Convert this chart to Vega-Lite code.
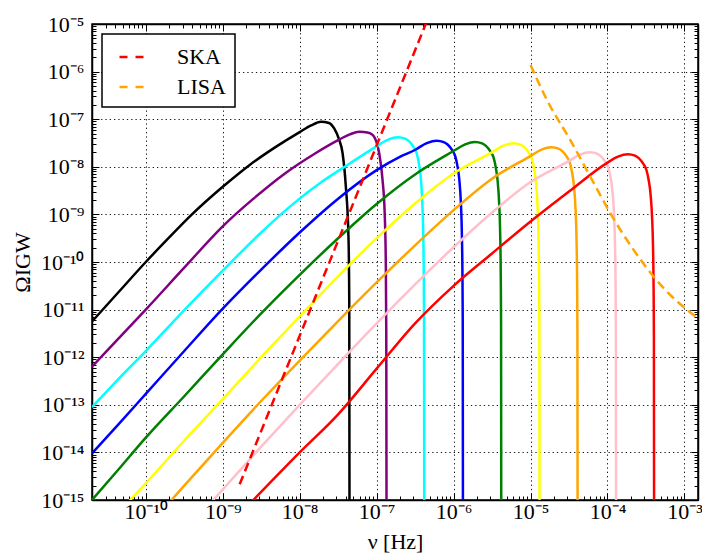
{
  "$schema": "https://vega.github.io/schema/vega-lite/v6.json",
  "width": 606,
  "height": 476,
  "autosize": {"type": "none"},
  "padding": {"left": 92, "top": 24, "right": 4, "bottom": 54},
  "config": {
    "view": {"stroke": "black", "strokeWidth": 1.5},
    "font": "Liberation Serif",
    "legend": {"strokeWidth": 1.5},
    "axis": {
      "labelFont": "Liberation Serif",
      "labelFontSize": 22,
      "labelColor": "black",
      "titleFont": "Liberation Serif",
      "titleFontSize": 22,
      "titleFontWeight": "normal",
      "titleColor": "black",
      "domainColor": "black",
      "domainWidth": 1.5,
      "tickColor": "black",
      "tickWidth": 1,
      "labelFlush": false,
      "labelOverlap": false
    }
  },
  "datasets": {
    "curves": [
      {"curve": "black", "nu": 2.0e-11, "omega": 5.62e-12},
      {"curve": "black", "nu": 4.47e-11, "omega": 2.37e-11},
      {"curve": "black", "nu": 1.0e-10, "omega": 1.0e-10},
      {"curve": "black", "nu": 2.0e-10, "omega": 3.24e-10},
      {"curve": "black", "nu": 3.98e-10, "omega": 1.0e-9},
      {"curve": "black", "nu": 1.0e-9, "omega": 3.80e-9},
      {"curve": "black", "nu": 2.24e-9, "omega": 1.096e-8},
      {"curve": "black", "nu": 5.01e-9, "omega": 2.69e-8},
      {"curve": "black", "nu": 1.0e-8, "omega": 5.37e-8},
      {"curve": "black", "nu": 1.41e-8, "omega": 7.41e-8},
      {"curve": "black", "nu": 1.888e-8, "omega": 8.87e-8},
      {"curve": "black", "nu": 2.40e-8, "omega": 8.32e-8},
      {"curve": "black", "nu": 2.82e-8, "omega": 6.31e-8},
      {"curve": "black", "nu": 3.24e-8, "omega": 3.80e-8},
      {"curve": "black", "nu": 3.606e-8, "omega": 1.95e-8},
      {"curve": "black", "nu": 3.98e-8, "omega": 3.80e-9},
      {"curve": "black", "nu": 4.305e-8, "omega": 3.39e-10},
      {"curve": "black", "nu": 4.406e-8, "omega": 1.58e-11},
      {"curve": "black", "nu": 4.446e-8, "omega": 1e-16},

      {"curve": "purple", "nu": 2.0e-11, "omega": 6.31e-13},
      {"curve": "purple", "nu": 4.47e-11, "omega": 2.51e-12},
      {"curve": "purple", "nu": 1.0e-10, "omega": 1.0e-11},
      {"curve": "purple", "nu": 3.16e-10, "omega": 7.59e-11},
      {"curve": "purple", "nu": 1.0e-9, "omega": 5.62e-10},
      {"curve": "purple", "nu": 2.51e-9, "omega": 2.14e-9},
      {"curve": "purple", "nu": 6.31e-9, "omega": 7.08e-9},
      {"curve": "purple", "nu": 1.585e-8, "omega": 1.905e-8},
      {"curve": "purple", "nu": 3.16e-8, "omega": 3.63e-8},
      {"curve": "purple", "nu": 4.47e-8, "omega": 4.79e-8},
      {"curve": "purple", "nu": 5.94e-8, "omega": 5.47e-8},
      {"curve": "purple", "nu": 7.59e-8, "omega": 5.25e-8},
      {"curve": "purple", "nu": 8.85e-8, "omega": 4.68e-8},
      {"curve": "purple", "nu": 1.012e-7, "omega": 3.02e-8},
      {"curve": "purple", "nu": 1.081e-7, "omega": 1.905e-8},
      {"curve": "purple", "nu": 1.194e-7, "omega": 5.25e-9},
      {"curve": "purple", "nu": 1.274e-7, "omega": 1.0e-9},
      {"curve": "purple", "nu": 1.315e-7, "omega": 1.0e-10},
      {"curve": "purple", "nu": 1.334e-7, "omega": 3.16e-12},
      {"curve": "purple", "nu": 1.346e-7, "omega": 1e-16},

      {"curve": "cyan", "nu": 2.0e-11, "omega": 8.91e-14},
      {"curve": "cyan", "nu": 4.47e-11, "omega": 3.55e-13},
      {"curve": "cyan", "nu": 1.0e-10, "omega": 1.349e-12},
      {"curve": "cyan", "nu": 3.16e-10, "omega": 9.77e-12},
      {"curve": "cyan", "nu": 1.0e-9, "omega": 6.61e-11},
      {"curve": "cyan", "nu": 3.16e-9, "omega": 4.17e-10},
      {"curve": "cyan", "nu": 7.94e-9, "omega": 1.585e-9},
      {"curve": "cyan", "nu": 2.0e-8, "omega": 5.01e-9},
      {"curve": "cyan", "nu": 4.47e-8, "omega": 1.175e-8},
      {"curve": "cyan", "nu": 9.98e-8, "omega": 2.69e-8},
      {"curve": "cyan", "nu": 1.409e-7, "omega": 3.72e-8},
      {"curve": "cyan", "nu": 1.901e-7, "omega": 4.17e-8},
      {"curve": "cyan", "nu": 2.339e-7, "omega": 3.89e-8},
      {"curve": "cyan", "nu": 2.624e-7, "omega": 3.47e-8},
      {"curve": "cyan", "nu": 3.013e-7, "omega": 2.63e-8},
      {"curve": "cyan", "nu": 3.304e-7, "omega": 1.95e-8},
      {"curve": "cyan", "nu": 3.540e-7, "omega": 1.175e-8},
      {"curve": "cyan", "nu": 3.707e-7, "omega": 6.92e-9},
      {"curve": "cyan", "nu": 3.917e-7, "omega": 1.86e-9},
      {"curve": "cyan", "nu": 4.018e-7, "omega": 5.25e-10},
      {"curve": "cyan", "nu": 4.093e-7, "omega": 6.61e-11},
      {"curve": "cyan", "nu": 4.130e-7, "omega": 6.61e-12},
      {"curve": "cyan", "nu": 4.159e-7, "omega": 1e-16},

      {"curve": "blue", "nu": 2.0e-11, "omega": 9.55e-15},
      {"curve": "blue", "nu": 4.47e-11, "omega": 3.98e-14},
      {"curve": "blue", "nu": 1.0e-10, "omega": 1.698e-13},
      {"curve": "blue", "nu": 3.16e-10, "omega": 1.349e-12},
      {"curve": "blue", "nu": 1.0e-9, "omega": 1.047e-11},
      {"curve": "blue", "nu": 3.16e-9, "omega": 6.92e-11},
      {"curve": "blue", "nu": 1.0e-8, "omega": 4.17e-10},
      {"curve": "blue", "nu": 3.16e-8, "omega": 2.14e-9},
      {"curve": "blue", "nu": 1.0e-7, "omega": 8.51e-9},
      {"curve": "blue", "nu": 2.0e-7, "omega": 1.622e-8},
      {"curve": "blue", "nu": 3.177e-7, "omega": 2.28e-8},
      {"curve": "blue", "nu": 4.487e-7, "omega": 3.148e-8},
      {"curve": "blue", "nu": 6.053e-7, "omega": 3.532e-8},
      {"curve": "blue", "nu": 7.447e-7, "omega": 3.296e-8},
      {"curve": "blue", "nu": 8.356e-7, "omega": 2.938e-8},
      {"curve": "blue", "nu": 9.594e-7, "omega": 2.228e-8},
      {"curve": "blue", "nu": 1.052e-6, "omega": 1.652e-8},
      {"curve": "blue", "nu": 1.127e-6, "omega": 9.95e-9},
      {"curve": "blue", "nu": 1.180e-6, "omega": 5.86e-9},
      {"curve": "blue", "nu": 1.247e-6, "omega": 1.578e-9},
      {"curve": "blue", "nu": 1.279e-6, "omega": 4.45e-10},
      {"curve": "blue", "nu": 1.303e-6, "omega": 5.60e-11},
      {"curve": "blue", "nu": 1.315e-6, "omega": 5.60e-12},
      {"curve": "blue", "nu": 1.324e-6, "omega": 1e-16},

      {"curve": "green", "nu": 2.0e-11, "omega": 1.0e-15},
      {"curve": "green", "nu": 4.47e-11, "omega": 4.47e-15},
      {"curve": "green", "nu": 1.0e-10, "omega": 2.04e-14},
      {"curve": "green", "nu": 3.16e-10, "omega": 1.514e-13},
      {"curve": "green", "nu": 1.0e-9, "omega": 1.148e-12},
      {"curve": "green", "nu": 3.16e-9, "omega": 8.32e-12},
      {"curve": "green", "nu": 1.0e-8, "omega": 5.37e-11},
      {"curve": "green", "nu": 3.16e-8, "omega": 3.16e-10},
      {"curve": "green", "nu": 1.0e-7, "omega": 1.66e-9},
      {"curve": "green", "nu": 3.16e-7, "omega": 6.92e-9},
      {"curve": "green", "nu": 1.0e-6, "omega": 2.143e-8},
      {"curve": "green", "nu": 1.413e-6, "omega": 2.958e-8},
      {"curve": "green", "nu": 1.905e-6, "omega": 3.319e-8},
      {"curve": "green", "nu": 2.344e-6, "omega": 3.097e-8},
      {"curve": "green", "nu": 2.630e-6, "omega": 2.761e-8},
      {"curve": "green", "nu": 3.020e-6, "omega": 2.094e-8},
      {"curve": "green", "nu": 3.311e-6, "omega": 1.552e-8},
      {"curve": "green", "nu": 3.548e-6, "omega": 9.35e-9},
      {"curve": "green", "nu": 3.715e-6, "omega": 5.51e-9},
      {"curve": "green", "nu": 3.926e-6, "omega": 1.483e-9},
      {"curve": "green", "nu": 4.027e-6, "omega": 4.18e-10},
      {"curve": "green", "nu": 4.102e-6, "omega": 5.26e-11},
      {"curve": "green", "nu": 4.140e-6, "omega": 5.26e-12},
      {"curve": "green", "nu": 4.169e-6, "omega": 1e-16},

      {"curve": "yellow", "nu": 5.50e-11, "omega": 7.94e-16},
      {"curve": "yellow", "nu": 1.0e-10, "omega": 2.24e-15},
      {"curve": "yellow", "nu": 3.16e-10, "omega": 1.778e-14},
      {"curve": "yellow", "nu": 1.0e-9, "omega": 1.318e-13},
      {"curve": "yellow", "nu": 3.16e-9, "omega": 1.0e-12},
      {"curve": "yellow", "nu": 1.0e-8, "omega": 7.24e-12},
      {"curve": "yellow", "nu": 3.16e-8, "omega": 5.01e-11},
      {"curve": "yellow", "nu": 1.0e-7, "omega": 3.16e-10},
      {"curve": "yellow", "nu": 3.16e-7, "omega": 1.698e-9},
      {"curve": "yellow", "nu": 1.0e-6, "omega": 7.24e-9},
      {"curve": "yellow", "nu": 3.148e-6, "omega": 2.014e-8},
      {"curve": "yellow", "nu": 4.446e-6, "omega": 2.780e-8},
      {"curve": "yellow", "nu": 5.998e-6, "omega": 3.119e-8},
      {"curve": "yellow", "nu": 7.379e-6, "omega": 2.911e-8},
      {"curve": "yellow", "nu": 8.279e-6, "omega": 2.594e-8},
      {"curve": "yellow", "nu": 9.506e-6, "omega": 1.968e-8},
      {"curve": "yellow", "nu": 1.042e-5, "omega": 1.459e-8},
      {"curve": "yellow", "nu": 1.117e-5, "omega": 8.79e-9},
      {"curve": "yellow", "nu": 1.169e-5, "omega": 5.18e-9},
      {"curve": "yellow", "nu": 1.236e-5, "omega": 1.393e-9},
      {"curve": "yellow", "nu": 1.268e-5, "omega": 3.93e-10},
      {"curve": "yellow", "nu": 1.291e-5, "omega": 4.94e-11},
      {"curve": "yellow", "nu": 1.303e-5, "omega": 4.94e-12},
      {"curve": "yellow", "nu": 1.312e-5, "omega": 1e-16},

      {"curve": "orange", "nu": 1.905e-10, "omega": 7.94e-16},
      {"curve": "orange", "nu": 3.16e-10, "omega": 2.0e-15},
      {"curve": "orange", "nu": 1.0e-9, "omega": 1.585e-14},
      {"curve": "orange", "nu": 3.16e-9, "omega": 1.202e-13},
      {"curve": "orange", "nu": 1.0e-8, "omega": 8.51e-13},
      {"curve": "orange", "nu": 3.16e-8, "omega": 5.75e-12},
      {"curve": "orange", "nu": 1.0e-7, "omega": 3.72e-11},
      {"curve": "orange", "nu": 3.16e-7, "omega": 2.24e-10},
      {"curve": "orange", "nu": 1.0e-6, "omega": 1.23e-9},
      {"curve": "orange", "nu": 3.16e-6, "omega": 5.62e-9},
      {"curve": "orange", "nu": 9.82e-6, "omega": 1.660e-8},
      {"curve": "orange", "nu": 1.387e-5, "omega": 2.291e-8},
      {"curve": "orange", "nu": 1.871e-5, "omega": 2.570e-8},
      {"curve": "orange", "nu": 2.301e-5, "omega": 2.399e-8},
      {"curve": "orange", "nu": 2.582e-5, "omega": 2.138e-8},
      {"curve": "orange", "nu": 2.965e-5, "omega": 1.622e-8},
      {"curve": "orange", "nu": 3.251e-5, "omega": 1.202e-8},
      {"curve": "orange", "nu": 3.483e-5, "omega": 7.24e-9},
      {"curve": "orange", "nu": 3.648e-5, "omega": 4.27e-9},
      {"curve": "orange", "nu": 3.855e-5, "omega": 1.148e-9},
      {"curve": "orange", "nu": 3.954e-5, "omega": 3.24e-10},
      {"curve": "orange", "nu": 4.027e-5, "omega": 4.07e-11},
      {"curve": "orange", "nu": 4.064e-5, "omega": 4.07e-12},
      {"curve": "orange", "nu": 4.093e-5, "omega": 1e-16},

      {"curve": "pink", "nu": 6.61e-10, "omega": 7.94e-16},
      {"curve": "pink", "nu": 1.0e-9, "omega": 1.66e-15},
      {"curve": "pink", "nu": 3.16e-9, "omega": 1.318e-14},
      {"curve": "pink", "nu": 1.0e-8, "omega": 1.0e-13},
      {"curve": "pink", "nu": 3.16e-8, "omega": 7.24e-13},
      {"curve": "pink", "nu": 1.0e-7, "omega": 5.13e-12},
      {"curve": "pink", "nu": 3.16e-7, "omega": 3.39e-11},
      {"curve": "pink", "nu": 1.0e-6, "omega": 2.04e-10},
      {"curve": "pink", "nu": 3.16e-6, "omega": 1.096e-9},
      {"curve": "pink", "nu": 1.0e-5, "omega": 4.79e-9},
      {"curve": "pink", "nu": 3.105e-5, "omega": 1.303e-8},
      {"curve": "pink", "nu": 4.385e-5, "omega": 1.799e-8},
      {"curve": "pink", "nu": 5.916e-5, "omega": 2.018e-8},
      {"curve": "pink", "nu": 7.278e-5, "omega": 1.884e-8},
      {"curve": "pink", "nu": 8.166e-5, "omega": 1.679e-8},
      {"curve": "pink", "nu": 9.376e-5, "omega": 1.274e-8},
      {"curve": "pink", "nu": 1.028e-4, "omega": 9.44e-9},
      {"curve": "pink", "nu": 1.102e-4, "omega": 5.69e-9},
      {"curve": "pink", "nu": 1.153e-4, "omega": 3.35e-9},
      {"curve": "pink", "nu": 1.219e-4, "omega": 9.02e-10},
      {"curve": "pink", "nu": 1.250e-4, "omega": 2.54e-10},
      {"curve": "pink", "nu": 1.274e-4, "omega": 3.20e-11},
      {"curve": "pink", "nu": 1.285e-4, "omega": 3.20e-12},
      {"curve": "pink", "nu": 1.294e-4, "omega": 1e-16},

      {"curve": "red", "nu": 2.24e-9, "omega": 8.32e-16},
      {"curve": "red", "nu": 1.0e-8, "omega": 1.0e-14},
      {"curve": "red", "nu": 3.16e-8, "omega": 6.31e-14},
      {"curve": "red", "nu": 1.0e-7, "omega": 5.75e-13},
      {"curve": "red", "nu": 3.16e-7, "omega": 5.13e-12},
      {"curve": "red", "nu": 1.0e-6, "omega": 3.16e-11},
      {"curve": "red", "nu": 3.16e-6, "omega": 1.514e-10},
      {"curve": "red", "nu": 1.0e-5, "omega": 7.08e-10},
      {"curve": "red", "nu": 3.16e-5, "omega": 3.02e-9},
      {"curve": "red", "nu": 9.68e-5, "omega": 1.183e-8},
      {"curve": "red", "nu": 1.368e-4, "omega": 1.633e-8},
      {"curve": "red", "nu": 1.845e-4, "omega": 1.832e-8},
      {"curve": "red", "nu": 2.270e-4, "omega": 1.710e-8},
      {"curve": "red", "nu": 2.547e-4, "omega": 1.524e-8},
      {"curve": "red", "nu": 2.924e-4, "omega": 1.156e-8},
      {"curve": "red", "nu": 3.206e-4, "omega": 8.57e-9},
      {"curve": "red", "nu": 3.436e-4, "omega": 5.16e-9},
      {"curve": "red", "nu": 3.597e-4, "omega": 3.04e-9},
      {"curve": "red", "nu": 3.802e-4, "omega": 8.18e-10},
      {"curve": "red", "nu": 3.899e-4, "omega": 2.31e-10},
      {"curve": "red", "nu": 3.972e-4, "omega": 2.90e-11},
      {"curve": "red", "nu": 4.009e-4, "omega": 2.90e-12},
      {"curve": "red", "nu": 4.036e-4, "omega": 1e-16}
    ],
    "detectors": [
      {"detector": "SKA", "nu": 1.66e-9, "omega": 2.14e-15},
      {"detector": "SKA", "nu": 3.98e-9, "omega": 7.08e-14},
      {"detector": "SKA", "nu": 1.0e-8, "omega": 2.82e-12},
      {"detector": "SKA", "nu": 2.51e-8, "omega": 1.122e-10},
      {"detector": "SKA", "nu": 6.31e-8, "omega": 4.47e-9},
      {"detector": "SKA", "nu": 1.585e-7, "omega": 1.778e-7},
      {"detector": "SKA", "nu": 4.47e-7, "omega": 1.122e-5},
      {"detector": "LISA", "nu": 1.0e-5, "omega": 1.38e-6},
      {"detector": "LISA", "nu": 1.637e-5, "omega": 2.51e-7},
      {"detector": "LISA", "nu": 3.289e-5, "omega": 3.63e-8},
      {"detector": "LISA", "nu": 5.998e-5, "omega": 6.17e-9},
      {"detector": "LISA", "nu": 1.091e-4, "omega": 1.047e-9},
      {"detector": "LISA", "nu": 2.193e-4, "omega": 1.778e-10},
      {"detector": "LISA", "nu": 3.98e-4, "omega": 4.90e-11},
      {"detector": "LISA", "nu": 6.92e-4, "omega": 1.862e-11},
      {"detector": "LISA", "nu": 9.33e-4, "omega": 1.202e-11},
      {"detector": "LISA", "nu": 1.479e-3, "omega": 6.76e-12},
      {"detector": "LISA", "nu": 1.585e-3, "omega": 6.31e-12}
    ]
  },
  "layer": [
    {
      "data": {"name": "curves"},
      "mark": {"type": "line", "strokeWidth": 2.5, "clip": true, "interpolate": "monotone"},
      "encoding": {
        "x": {
          "field": "nu", "type": "quantitative",
          "scale": {"type": "log", "domain": [2e-11, 1.5e-3], "nice": false},
          "axis": {
            "orient": "bottom",
            "title": "ν [Hz]",
            "titleFont": "Liberation Serif",
            "titleFontSize": 22,
            "titlePadding": 6,
            "labelFont": "Liberation Serif",
            "labelFontSize": 22,
            "values": [3e-11,4e-11,5e-11,6e-11,7e-11,8e-11,9e-11,1e-10,2e-10,3e-10,4e-10,5e-10,6e-10,7e-10,8e-10,9e-10,1e-9,2e-9,3e-9,4e-9,5e-9,6e-9,7e-9,8e-9,9e-9,1e-8,2e-8,3e-8,4e-8,5e-8,6e-8,7e-8,8e-8,9e-8,1e-7,2e-7,3e-7,4e-7,5e-7,6e-7,7e-7,8e-7,9e-7,1e-6,2e-6,3e-6,4e-6,5e-6,6e-6,7e-6,8e-6,9e-6,1e-5,2e-5,3e-5,4e-5,5e-5,6e-5,7e-5,8e-5,9e-5,1e-4,2e-4,3e-4,4e-4,5e-4,6e-4,7e-4,8e-4,9e-4,1e-3],
            "labelExpr": "(abs(log(datum.value)/LN10 - round(log(datum.value)/LN10)) < 0.001) ? '10' + replace(replace(replace(replace(replace(replace(replace(replace(replace(replace(replace('' + round(log(datum.value)/LN10), '-', '⁻'), regexp('0','g'), '⁰'), regexp('1','g'), '¹'), regexp('2','g'), '²'), regexp('3','g'), '³'), regexp('4','g'), '⁴'), regexp('5','g'), '⁵'), regexp('6','g'), '⁶'), regexp('7','g'), '⁷'), regexp('8','g'), '⁸'), regexp('9','g'), '⁹') : ''",
            "labelPadding": 8,
            "grid": true,
            "gridColor": "black",
            "gridWidth": 1,
            "gridDash": [1.3, 3],
            "gridOpacity": {"condition": {"test": "abs(log(datum.value)/LN10 - round(log(datum.value)/LN10)) < 0.001", "value": 0.9}, "value": 0},
            "tickSize": {"condition": {"test": "abs(log(datum.value)/LN10 - round(log(datum.value)/LN10)) < 0.001", "value": -7}, "value": -4}
          }
        },
        "y": {
          "field": "omega", "type": "quantitative",
          "scale": {"type": "log", "domain": [1e-15, 1e-5], "nice": false},
          "axis": {
            "orient": "left",
            "title": "ΩIGW",
            "titleFont": "Liberation Serif",
            "titleFontSize": 22,
            "titlePadding": 6,
            "labelFont": "Liberation Serif",
            "labelFontSize": 22,
            "values": [1e-15,2e-15,3e-15,4e-15,5e-15,6e-15,7e-15,8e-15,9e-15,1e-14,2e-14,3e-14,4e-14,5e-14,6e-14,7e-14,8e-14,9e-14,1e-13,2e-13,3e-13,4e-13,5e-13,6e-13,7e-13,8e-13,9e-13,1e-12,2e-12,3e-12,4e-12,5e-12,6e-12,7e-12,8e-12,9e-12,1e-11,2e-11,3e-11,4e-11,5e-11,6e-11,7e-11,8e-11,9e-11,1e-10,2e-10,3e-10,4e-10,5e-10,6e-10,7e-10,8e-10,9e-10,1e-9,2e-9,3e-9,4e-9,5e-9,6e-9,7e-9,8e-9,9e-9,1e-8,2e-8,3e-8,4e-8,5e-8,6e-8,7e-8,8e-8,9e-8,1e-7,2e-7,3e-7,4e-7,5e-7,6e-7,7e-7,8e-7,9e-7,1e-6,2e-6,3e-6,4e-6,5e-6,6e-6,7e-6,8e-6,9e-6,1e-5],
            "labelExpr": "(abs(log(datum.value)/LN10 - round(log(datum.value)/LN10)) < 0.001) ? '10' + replace(replace(replace(replace(replace(replace(replace(replace(replace(replace(replace('' + round(log(datum.value)/LN10), '-', '⁻'), regexp('0','g'), '⁰'), regexp('1','g'), '¹'), regexp('2','g'), '²'), regexp('3','g'), '³'), regexp('4','g'), '⁴'), regexp('5','g'), '⁵'), regexp('6','g'), '⁶'), regexp('7','g'), '⁷'), regexp('8','g'), '⁸'), regexp('9','g'), '⁹') : ''",
            "labelPadding": 15,
            "grid": true,
            "gridColor": "black",
            "gridWidth": 1,
            "gridDash": [1.3, 3],
            "gridOpacity": {"condition": {"test": "abs(log(datum.value)/LN10 - round(log(datum.value)/LN10)) < 0.001", "value": 0.9}, "value": 0},
            "tickSize": {"condition": {"test": "abs(log(datum.value)/LN10 - round(log(datum.value)/LN10)) < 0.001", "value": -7}, "value": -4}
          }
        },
        "color": {
          "field": "curve", "type": "nominal",
          "scale": {
            "domain": ["black", "purple", "cyan", "blue", "green", "yellow", "orange", "pink", "red"],
            "range": ["#000000", "#800080", "#00ffff", "#0000ff", "#008000", "#ffff00", "#ffa500", "#ffc0cb", "#ff0000"]
          },
          "legend": null
        }
      }
    },
    {
      "data": {"name": "detectors"},
      "mark": {"type": "line", "strokeWidth": 2.5, "strokeDash": [9, 5], "clip": true, "interpolate": "monotone"},
      "encoding": {
        "x": {
          "field": "nu", "type": "quantitative",
          "scale": {"type": "log", "domain": [2e-11, 1.5e-3], "nice": false},
          "axis": {
            "orient": "top",
            "title": null,
            "labels": false,
            "grid": false,
            "values": [3e-11,4e-11,5e-11,6e-11,7e-11,8e-11,9e-11,1e-10,2e-10,3e-10,4e-10,5e-10,6e-10,7e-10,8e-10,9e-10,1e-9,2e-9,3e-9,4e-9,5e-9,6e-9,7e-9,8e-9,9e-9,1e-8,2e-8,3e-8,4e-8,5e-8,6e-8,7e-8,8e-8,9e-8,1e-7,2e-7,3e-7,4e-7,5e-7,6e-7,7e-7,8e-7,9e-7,1e-6,2e-6,3e-6,4e-6,5e-6,6e-6,7e-6,8e-6,9e-6,1e-5,2e-5,3e-5,4e-5,5e-5,6e-5,7e-5,8e-5,9e-5,1e-4,2e-4,3e-4,4e-4,5e-4,6e-4,7e-4,8e-4,9e-4,1e-3],
            "tickSize": {"condition": {"test": "abs(log(datum.value)/LN10 - round(log(datum.value)/LN10)) < 0.001", "value": -7}, "value": -4}
          }
        },
        "y": {
          "field": "omega", "type": "quantitative",
          "scale": {"type": "log", "domain": [1e-15, 1e-5], "nice": false},
          "axis": {
            "orient": "right",
            "title": null,
            "labels": false,
            "grid": false,
            "values": [1e-15,2e-15,3e-15,4e-15,5e-15,6e-15,7e-15,8e-15,9e-15,1e-14,2e-14,3e-14,4e-14,5e-14,6e-14,7e-14,8e-14,9e-14,1e-13,2e-13,3e-13,4e-13,5e-13,6e-13,7e-13,8e-13,9e-13,1e-12,2e-12,3e-12,4e-12,5e-12,6e-12,7e-12,8e-12,9e-12,1e-11,2e-11,3e-11,4e-11,5e-11,6e-11,7e-11,8e-11,9e-11,1e-10,2e-10,3e-10,4e-10,5e-10,6e-10,7e-10,8e-10,9e-10,1e-9,2e-9,3e-9,4e-9,5e-9,6e-9,7e-9,8e-9,9e-9,1e-8,2e-8,3e-8,4e-8,5e-8,6e-8,7e-8,8e-8,9e-8,1e-7,2e-7,3e-7,4e-7,5e-7,6e-7,7e-7,8e-7,9e-7,1e-6,2e-6,3e-6,4e-6,5e-6,6e-6,7e-6,8e-6,9e-6,1e-5],
            "tickSize": {"condition": {"test": "abs(log(datum.value)/LN10 - round(log(datum.value)/LN10)) < 0.001", "value": -7}, "value": -4}
          }
        },
        "color": {
          "field": "detector", "type": "nominal",
          "scale": {"domain": ["SKA", "LISA"], "range": ["#ff0000", "#ffa500"]},
          "legend": {
            "title": null,
            "orient": "top-left",
            "offset": 10,
            "padding": 9,
            "strokeColor": "black",
            "fillColor": "white",
            "cornerRadius": 0,
            "symbolType": "stroke",
            "symbolSize": 625,
            "symbolStrokeWidth": 2.5,
            "symbolDash": [8, 8],
            "symbolOffset": 7,
            "labelFont": "Liberation Serif",
            "labelFontSize": 22,
            "labelColor": "black",
            "labelOffset": 31,
            "rowPadding": 5
          }
        }
      }
    }
  ],
  "resolve": {
    "scale": {"color": "independent"},
    "axis": {"x": "independent", "y": "independent"}
  }
}
